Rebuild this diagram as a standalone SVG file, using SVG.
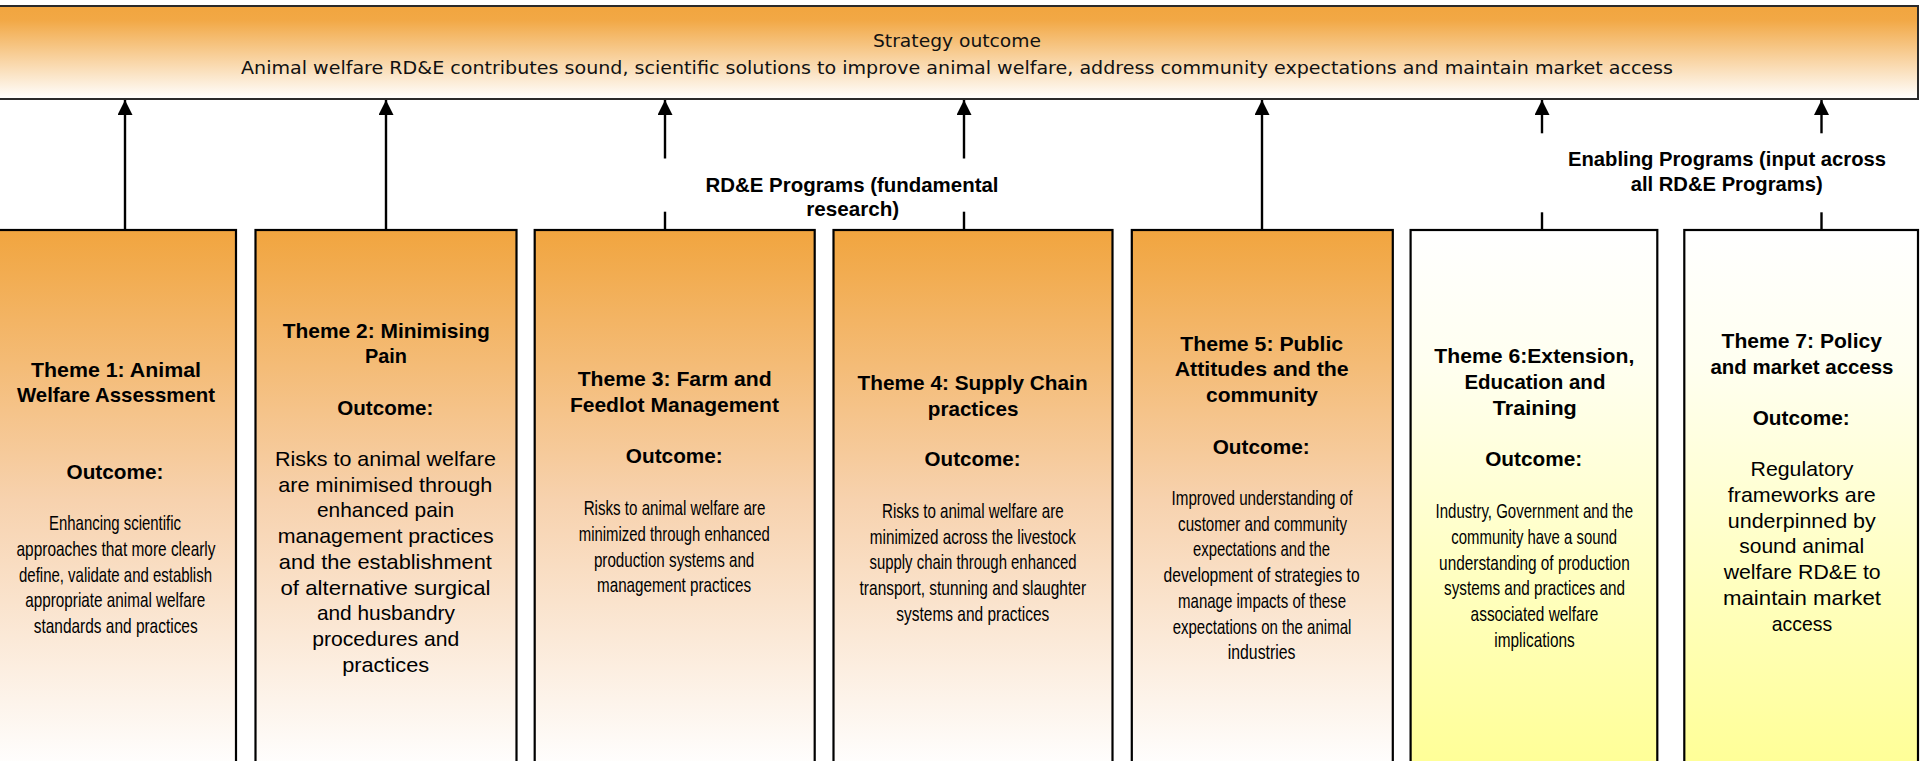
<svg xmlns="http://www.w3.org/2000/svg" width="1920" height="761" viewBox="0 0 1920 761">
<defs>
<linearGradient id="gTop" x1="0" y1="0" x2="0" y2="1">
<stop offset="0" stop-color="#F1A53F"/>
<stop offset="0.15" stop-color="#F2A845"/>
<stop offset="1" stop-color="#FFFFFF"/>
</linearGradient>
<linearGradient id="gOrange" gradientUnits="userSpaceOnUse" x1="0" y1="230" x2="0" y2="770">
<stop offset="0" stop-color="#F1A53F"/>
<stop offset="0.5" stop-color="#F7D2AE"/>
<stop offset="1" stop-color="#FFFFFF"/>
</linearGradient>
<linearGradient id="gYellow" gradientUnits="userSpaceOnUse" x1="0" y1="230" x2="0" y2="770">
<stop offset="0" stop-color="#FFFFFF"/>
<stop offset="0.25" stop-color="#FFFFF0"/>
<stop offset="1" stop-color="#FFFF96"/>
</linearGradient>
<marker id="arrow" markerUnits="userSpaceOnUse" viewBox="0 0 15 15" refX="15" refY="7.5" markerWidth="15" markerHeight="15" orient="auto">
<path d="M0,0 L15,7.5 L0,15 z" fill="#000"/>
</marker>
</defs>
<style>
.box{stroke:#000;stroke-width:2.2}
.or{fill:url(#gOrange)}
.ye{fill:url(#gYellow)}
.conn{stroke:#000;stroke-width:2.4;fill:none}
text{fill:#000;text-anchor:middle}
.top{font-family:"DejaVu Sans","Liberation Sans",sans-serif;font-size:18px;fill:#111}
.t{font-family:"Liberation Sans",Arial,sans-serif;font-size:21px;font-weight:bold}
.r{font-family:"Liberation Sans",Arial,sans-serif;font-size:21px}
.c{font-family:"Liberation Sans",Arial,sans-serif;font-size:21px}
</style>

<g id="outcome">
<rect x="-2" y="6" width="1920" height="93" fill="url(#gTop)" stroke="#2a2a2a" stroke-width="2"/>
<text class="top" x="957" y="47.3" textLength="168" lengthAdjust="spacingAndGlyphs">Strategy outcome</text>
<text class="top" x="957" y="74" textLength="1432" lengthAdjust="spacingAndGlyphs">Animal welfare RD&amp;E contributes sound, scientific solutions to improve animal welfare, address community expectations and maintain market access</text>
</g>

<g id="connectors">
<line class="conn" x1="125" y1="230" x2="125" y2="100" marker-end="url(#arrow)"/>
<line class="conn" x1="386" y1="230" x2="386" y2="100" marker-end="url(#arrow)"/>
<line class="conn" x1="665" y1="158.5" x2="665" y2="100" marker-end="url(#arrow)"/>
<line class="conn" x1="665" y1="211.7" x2="665" y2="230"/>
<line class="conn" x1="964" y1="158.5" x2="964" y2="100" marker-end="url(#arrow)"/>
<line class="conn" x1="964" y1="211.7" x2="964" y2="230"/>
<line class="conn" x1="1262" y1="230" x2="1262" y2="100" marker-end="url(#arrow)"/>
<line class="conn" x1="1542" y1="133.3" x2="1542" y2="100" marker-end="url(#arrow)"/>
<line class="conn" x1="1542" y1="212.3" x2="1542" y2="230"/>
<line class="conn" x1="1821.5" y1="133.3" x2="1821.5" y2="100" marker-end="url(#arrow)"/>
<line class="conn" x1="1821.5" y1="212.3" x2="1821.5" y2="230"/>
</g>

<g id="label-rde">
<text class="t" x="852" y="191.7" textLength="293" lengthAdjust="spacingAndGlyphs">RD&amp;E Programs (fundamental</text>
<text class="t" x="852.7" y="215.7" textLength="93" lengthAdjust="spacingAndGlyphs">research)</text>
</g>

<g id="label-enabling">
<text class="t" x="1727" y="165.7" textLength="318" lengthAdjust="spacingAndGlyphs">Enabling Programs (input across</text>
<text class="t" x="1726.7" y="190.7" textLength="192" lengthAdjust="spacingAndGlyphs">all RD&amp;E Programs)</text>
</g>

<g id="theme1">
<rect class="box or" x="-2" y="230" width="238" height="560"/>
<text class="t" x="116" y="377" textLength="170" lengthAdjust="spacingAndGlyphs">Theme 1: Animal</text>
<text class="t" x="116" y="402" textLength="198" lengthAdjust="spacingAndGlyphs">Welfare Assessment</text>
<text class="t" x="115" y="479.3" textLength="97" lengthAdjust="spacingAndGlyphs">Outcome:</text>
<text class="c" x="115" y="530.3" textLength="132" lengthAdjust="spacingAndGlyphs">Enhancing scientific</text>
<text class="c" x="116" y="556" textLength="199" lengthAdjust="spacingAndGlyphs">approaches that more clearly</text>
<text class="c" x="115.5" y="581.7" textLength="193" lengthAdjust="spacingAndGlyphs">define, validate and establish</text>
<text class="c" x="115.3" y="607.4" textLength="180" lengthAdjust="spacingAndGlyphs">appropriate animal welfare</text>
<text class="c" x="115.7" y="633" textLength="164" lengthAdjust="spacingAndGlyphs">standards and practices</text>
</g>

<g id="theme2">
<rect class="box or" x="255.5" y="230" width="261" height="560"/>
<text class="t" x="386.3" y="338.3" textLength="207" lengthAdjust="spacingAndGlyphs">Theme 2: Minimising</text>
<text class="t" x="386" y="363.3" textLength="42" lengthAdjust="spacingAndGlyphs">Pain</text>
<text class="t" x="385.3" y="415.3" textLength="96" lengthAdjust="spacingAndGlyphs">Outcome:</text>
<text class="r" x="385.4" y="466" textLength="221" lengthAdjust="spacingAndGlyphs">Risks to animal welfare</text>
<text class="r" x="385.3" y="491.7" textLength="214" lengthAdjust="spacingAndGlyphs">are minimised through</text>
<text class="r" x="385.5" y="517.4" textLength="137" lengthAdjust="spacingAndGlyphs">enhanced pain</text>
<text class="r" x="385.7" y="543.1" textLength="216" lengthAdjust="spacingAndGlyphs">management practices</text>
<text class="r" x="385.3" y="568.8" textLength="213" lengthAdjust="spacingAndGlyphs">and the establishment</text>
<text class="r" x="385.5" y="594.5" textLength="210" lengthAdjust="spacingAndGlyphs">of alternative surgical</text>
<text class="r" x="385.9" y="620.2" textLength="138" lengthAdjust="spacingAndGlyphs">and husbandry</text>
<text class="r" x="385.7" y="645.9" textLength="147" lengthAdjust="spacingAndGlyphs">procedures and</text>
<text class="r" x="385.7" y="671.6" textLength="87" lengthAdjust="spacingAndGlyphs">practices</text>
</g>

<g id="theme3">
<rect class="box or" x="534.7" y="230" width="280" height="560"/>
<text class="t" x="674.7" y="386" textLength="194" lengthAdjust="spacingAndGlyphs">Theme 3: Farm and</text>
<text class="t" x="674.4" y="411.8" textLength="209" lengthAdjust="spacingAndGlyphs">Feedlot Management</text>
<text class="t" x="674.3" y="463.3" textLength="97" lengthAdjust="spacingAndGlyphs">Outcome:</text>
<text class="c" x="674.5" y="515.3" textLength="181.6" lengthAdjust="spacingAndGlyphs">Risks to animal welfare are</text>
<text class="c" x="674.3" y="541" textLength="191" lengthAdjust="spacingAndGlyphs">minimized through enhanced</text>
<text class="c" x="674.1" y="566.7" textLength="160.4" lengthAdjust="spacingAndGlyphs">production systems and</text>
<text class="c" x="674" y="592.4" textLength="154" lengthAdjust="spacingAndGlyphs">management practices</text>
</g>

<g id="theme4">
<rect class="box or" x="833.5" y="230" width="279" height="560"/>
<text class="t" x="972.6" y="390" textLength="230" lengthAdjust="spacingAndGlyphs">Theme 4: Supply Chain</text>
<text class="t" x="973.1" y="415.5" textLength="90.6" lengthAdjust="spacingAndGlyphs">practices</text>
<text class="t" x="972.6" y="466" textLength="96" lengthAdjust="spacingAndGlyphs">Outcome:</text>
<text class="c" x="972.8" y="518" textLength="181.6" lengthAdjust="spacingAndGlyphs">Risks to animal welfare are</text>
<text class="c" x="972.8" y="543.7" textLength="206" lengthAdjust="spacingAndGlyphs">minimized across the livestock</text>
<text class="c" x="973" y="569.4" textLength="207" lengthAdjust="spacingAndGlyphs">supply chain through enhanced</text>
<text class="c" x="972.8" y="595.1" textLength="226.5" lengthAdjust="spacingAndGlyphs">transport, stunning and slaughter</text>
<text class="c" x="972.8" y="620.8" textLength="153" lengthAdjust="spacingAndGlyphs">systems and practices</text>
</g>

<g id="theme5">
<rect class="box or" x="1131.8" y="230" width="261" height="560"/>
<text class="t" x="1261.7" y="350.7" textLength="163" lengthAdjust="spacingAndGlyphs">Theme 5: Public</text>
<text class="t" x="1261.7" y="376.2" textLength="174" lengthAdjust="spacingAndGlyphs">Attitudes and the</text>
<text class="t" x="1262" y="401.7" textLength="112" lengthAdjust="spacingAndGlyphs">community</text>
<text class="t" x="1261.2" y="454.3" textLength="97" lengthAdjust="spacingAndGlyphs">Outcome:</text>
<text class="c" x="1262" y="505" textLength="181" lengthAdjust="spacingAndGlyphs">Improved understanding of</text>
<text class="c" x="1262.6" y="530.7" textLength="169" lengthAdjust="spacingAndGlyphs">customer and community</text>
<text class="c" x="1261.5" y="556.4" textLength="137" lengthAdjust="spacingAndGlyphs">expectations and the</text>
<text class="c" x="1261.6" y="582.1" textLength="196" lengthAdjust="spacingAndGlyphs">development of strategies  to</text>
<text class="c" x="1262" y="607.8" textLength="168" lengthAdjust="spacingAndGlyphs">manage impacts of these</text>
<text class="c" x="1262" y="633.5" textLength="178.7" lengthAdjust="spacingAndGlyphs">expectations on the animal</text>
<text class="c" x="1261.6" y="659.2" textLength="67.7" lengthAdjust="spacingAndGlyphs">industries</text>
</g>

<g id="theme6">
<rect class="box ye" x="1410.6" y="230" width="246.7" height="560"/>
<text class="t" x="1534.3" y="363.3" textLength="200" lengthAdjust="spacingAndGlyphs">Theme 6:Extension,</text>
<text class="t" x="1534.9" y="389" textLength="141" lengthAdjust="spacingAndGlyphs">Education and</text>
<text class="t" x="1534.8" y="414.7" textLength="84" lengthAdjust="spacingAndGlyphs">Training</text>
<text class="t" x="1533.7" y="466" textLength="97" lengthAdjust="spacingAndGlyphs">Outcome:</text>
<text class="c" x="1534.3" y="518.3" textLength="197.5" lengthAdjust="spacingAndGlyphs">Industry, Government and the</text>
<text class="c" x="1534.2" y="544" textLength="165.7" lengthAdjust="spacingAndGlyphs">community have a sound</text>
<text class="c" x="1534.4" y="569.7" textLength="190.6" lengthAdjust="spacingAndGlyphs">understanding of production</text>
<text class="c" x="1534.5" y="595.4" textLength="181" lengthAdjust="spacingAndGlyphs">systems and practices and</text>
<text class="c" x="1534.5" y="621.1" textLength="127.8" lengthAdjust="spacingAndGlyphs">associated welfare</text>
<text class="c" x="1534.5" y="646.8" textLength="80.4" lengthAdjust="spacingAndGlyphs">implications</text>
</g>

<g id="theme7">
<rect class="box ye" x="1684.3" y="230" width="233.7" height="560"/>
<text class="t" x="1801.8" y="348" textLength="160.4" lengthAdjust="spacingAndGlyphs">Theme 7: Policy</text>
<text class="t" x="1802" y="373.9" textLength="183" lengthAdjust="spacingAndGlyphs">and market access</text>
<text class="t" x="1801.2" y="425" textLength="97" lengthAdjust="spacingAndGlyphs">Outcome:</text>
<text class="r" x="1802" y="476.3" textLength="103" lengthAdjust="spacingAndGlyphs">Regulatory</text>
<text class="r" x="1801.8" y="502" textLength="148" lengthAdjust="spacingAndGlyphs">frameworks are</text>
<text class="r" x="1801.8" y="527.7" textLength="148" lengthAdjust="spacingAndGlyphs">underpinned by</text>
<text class="r" x="1801.7" y="553.4" textLength="125" lengthAdjust="spacingAndGlyphs">sound animal</text>
<text class="r" x="1802.2" y="579.1" textLength="157" lengthAdjust="spacingAndGlyphs">welfare RD&amp;E to</text>
<text class="r" x="1802" y="604.8" textLength="158" lengthAdjust="spacingAndGlyphs">maintain market</text>
<text class="r" x="1802" y="630.5" textLength="60.4" lengthAdjust="spacingAndGlyphs">access</text>
</g>
</svg>
